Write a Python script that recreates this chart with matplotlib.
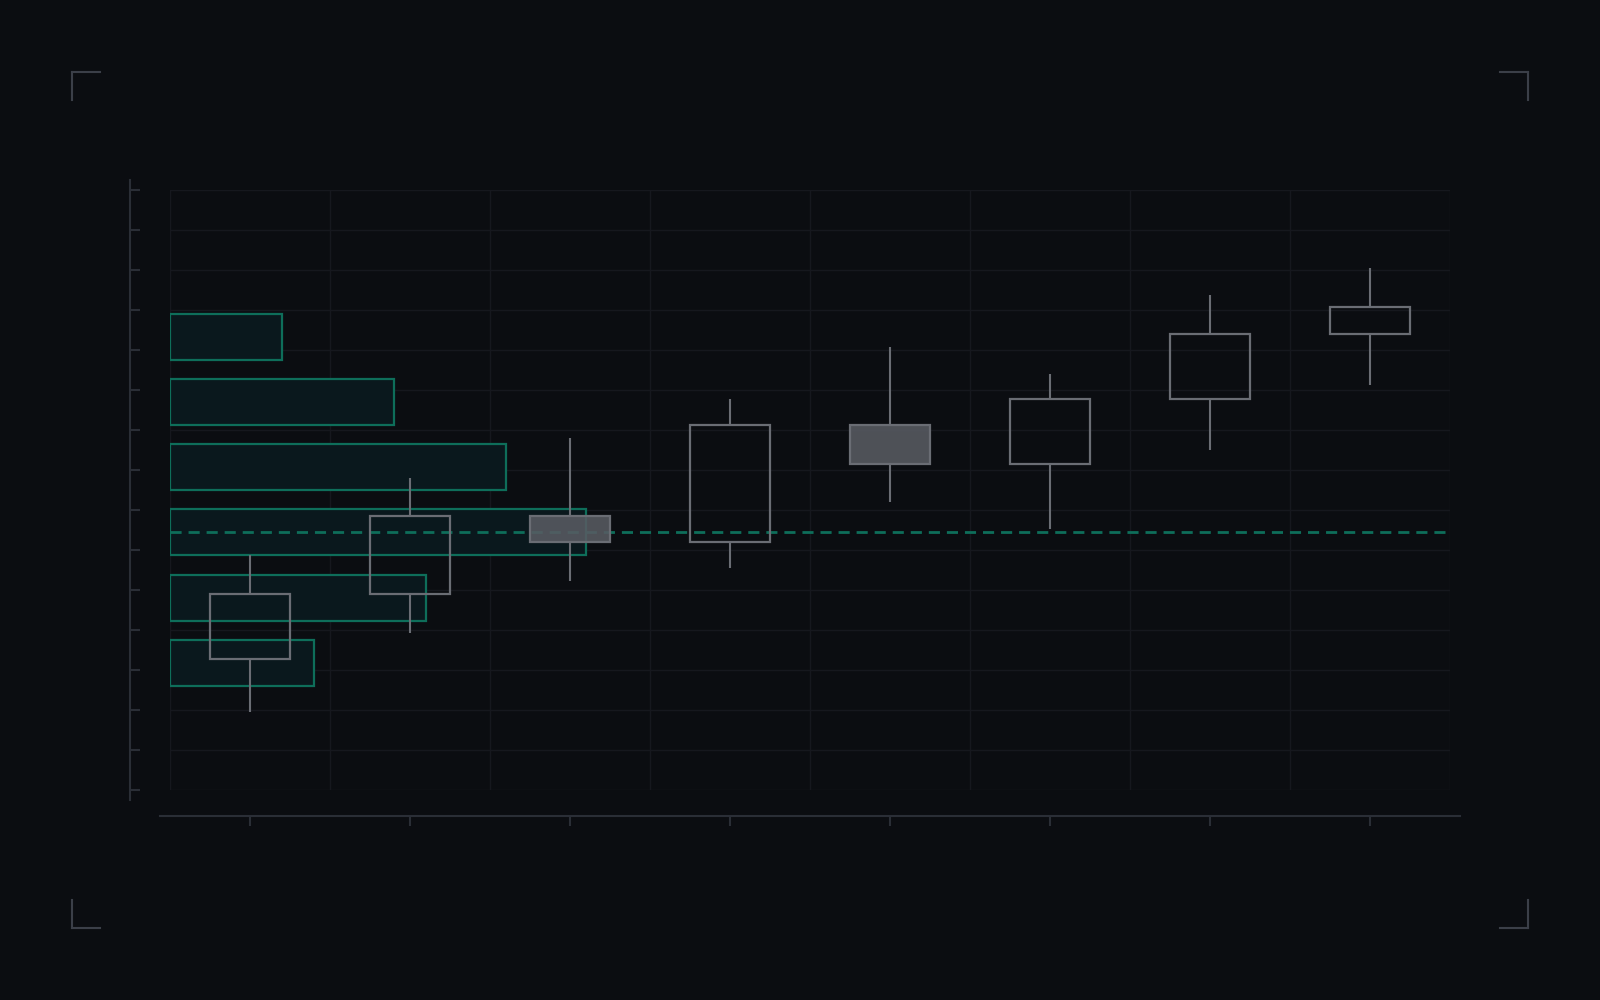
import matplotlib
matplotlib.use("Agg")
import matplotlib.pyplot as plt
from matplotlib.patches import Rectangle
from matplotlib.lines import Line2D
from matplotlib.ticker import FixedLocator

# ---- data ----
candle_x = [0, 1, 2, 3, 4, 5, 6, 7]
opens  = [3.27, 4.90, 6.84, 6.20, 9.13, 8.14, 9.77, 11.40]
closes = [4.90, 6.84, 6.20, 9.13, 8.14, 9.77, 11.40, 12.07]
highs  = [5.87, 7.81, 8.80, 9.77, 11.07, 10.41, 12.37, 13.04]
lows   = [1.96, 3.93, 5.23, 5.56, 7.19, 6.53, 8.49, 10.13]

profile_levels = [11.33, 9.70, 8.07, 6.44, 4.81, 3.18]
profile_volume = [7, 14, 21, 26, 16, 9]
poc_level = 6.44

y_ticks = list(range(0, 16))

# ---- style ----
BG = "#0b0d11"
GRID = "#16181e"
AXIS = "#2a2e36"
BRACKET = "#3b3f48"
TEAL = "#0e6e5a"
TEAL_FILL = "#0a181d"
CANDLE_EDGE = "#6a6d74"

W, H = 1600, 1000
fig = plt.figure(figsize=(16, 10), dpi=100, facecolor=BG)
ax = fig.add_axes([170 / W, 1 - 790 / H, 1280 / W, 600 / H])
ax.set_facecolor(BG)

ax.set_xlim(-0.5, 7.5)
ax.set_ylim(0, 15)

# grid
ax.xaxis.set_major_locator(FixedLocator(candle_x))
ax.xaxis.set_minor_locator(FixedLocator([x - 0.5 for x in candle_x] + [candle_x[-1] + 0.5]))
ax.yaxis.set_major_locator(FixedLocator(y_ticks))
ax.grid(False)
ax.grid(True, which="minor", axis="x", color=GRID, linewidth=1.0, zorder=0)
ax.grid(True, which="major", axis="y", color=GRID, linewidth=1.0, zorder=0)
ax.set_axisbelow(True)

# spines
for s in ["top", "right"]:
    ax.spines[s].set_visible(False)
px = 0.72  # points per pixel at dpi 100
ax.spines["left"].set_position(("outward", 40 * px))
ax.spines["left"].set_bounds(-0.25, 15.25)
ax.spines["left"].set_color(AXIS)
ax.spines["left"].set_linewidth(1.5)
ax.spines["bottom"].set_position(("outward", 26 * px))
ax.spines["bottom"].set_bounds(-0.5625, 7.5625)
ax.spines["bottom"].set_color(AXIS)
ax.spines["bottom"].set_linewidth(1.5)
ax.tick_params(axis="y", which="major", direction="in", length=10 * px, width=1.5,
               color=AXIS, labelleft=False)
ax.tick_params(axis="x", which="major", direction="out", length=10 * px, width=1.5,
               color=AXIS, labelbottom=False)
ax.tick_params(axis="x", which="minor", length=0, labelbottom=False)

# volume profile
max_w = 2.6
bar_h = 1.15
widths = [v / max(profile_volume) * max_w for v in profile_volume]
ax.barh(profile_levels, widths, height=bar_h, left=-0.5, color=TEAL_FILL,
        edgecolor=TEAL, linewidth=1.6, zorder=2)

# POC line
ax.axhline(poc_level, color=TEAL, linewidth=2.0, linestyle=(0, (4.0, 2.5)), zorder=3)

# candles
body_w = 0.5
for x, o, c, h, l in zip(candle_x, opens, closes, highs, lows):
    lo_b, hi_b = min(o, c), max(o, c)
    ax.plot([x, x], [l, lo_b], color=CANDLE_EDGE, linewidth=1.5, zorder=4,
            solid_capstyle="butt")
    ax.plot([x, x], [hi_b, h], color=CANDLE_EDGE, linewidth=1.5, zorder=4,
            solid_capstyle="butt")
    down = c < o
    face = (0x58 / 255, 0x5b / 255, 0x62 / 255, 0.88) if down else "none"
    rect = Rectangle((x - body_w / 2, lo_b), body_w, hi_b - lo_b,
                     facecolor=face, edgecolor=CANDLE_EDGE, linewidth=1.6, zorder=5)
    ax.add_patch(rect)

# corner brackets (figure decoration)
L = 28
def bracket(cx, cy, dx, dy):
    fig.add_artist(Line2D([cx / W, (cx + dx * L) / W], [1 - cy / H, 1 - cy / H],
                          transform=fig.transFigure, color=BRACKET, linewidth=1.5))
    fig.add_artist(Line2D([cx / W, cx / W], [1 - cy / H, 1 - (cy + dy * L) / H],
                          transform=fig.transFigure, color=BRACKET, linewidth=1.5))

bracket(72, 72, 1, 1)
bracket(1528, 72, -1, 1)
bracket(72, 928, 1, -1)
bracket(1528, 928, -1, -1)

fig.savefig("out.png", dpi=100, facecolor=BG)
